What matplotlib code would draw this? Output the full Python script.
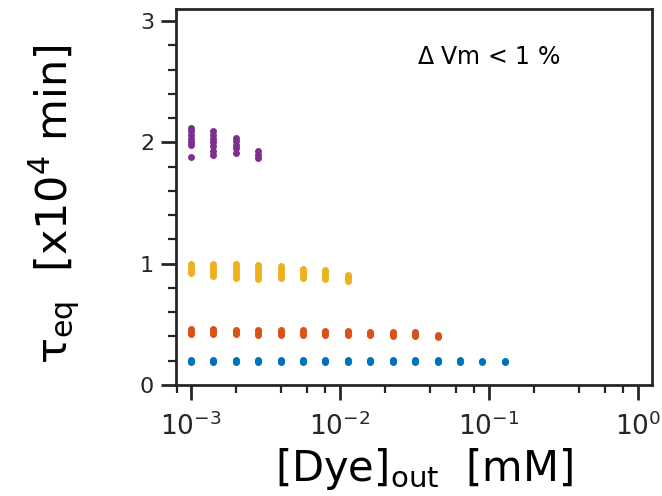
import numpy as np
import matplotlib.pyplot as plt
from matplotlib.ticker import LogLocator, MultipleLocator, NullFormatter

# dye concentration steps [mM]
conc = [1.0e-3, 1.41e-3, 2.0e-3, 2.83e-3, 4.0e-3, 5.66e-3, 8.0e-3, 1.13e-2,
        1.6e-2, 2.26e-2, 3.2e-2, 4.53e-2, 6.4e-2, 9.05e-2, 1.28e-1]

# tau_eq values [x10^4 min], one list per concentration
tau_blue = [[0.19, 0.20, 0.21]] * 12 + [[0.19, 0.20, 0.205], [0.19, 0.20], [0.19, 0.195]]
tau_red = [[0.42, 0.435, 0.45, 0.46], [0.42, 0.435, 0.45, 0.46],
           [0.42, 0.43, 0.445, 0.455], [0.415, 0.43, 0.445, 0.455],
           [0.415, 0.43, 0.44, 0.45], [0.415, 0.43, 0.44, 0.45],
           [0.41, 0.425, 0.44, 0.445], [0.41, 0.42, 0.435, 0.445],
           [0.41, 0.42, 0.43, 0.44], [0.405, 0.42, 0.43, 0.435],
           [0.405, 0.415, 0.425, 0.435], [0.395, 0.405, 0.413]]
tau_yellow = [[0.925, 0.95, 0.975, 1.0], [0.90, 0.925, 0.95, 0.975, 0.995],
              [0.885, 0.91, 0.935, 0.96, 0.98, 1.0], [0.875, 0.90, 0.925, 0.95, 0.97, 0.99],
              [0.885, 0.905, 0.93, 0.955, 0.98], [0.88, 0.90, 0.92, 0.94, 0.96],
              [0.87, 0.89, 0.91, 0.93, 0.945], [0.855, 0.87, 0.89, 0.905]]
tau_purple = [[1.88, 1.98, 2.00, 2.03, 2.06, 2.09, 2.12],
              [1.90, 1.93, 1.97, 2.00, 2.03, 2.06, 2.09],
              [1.91, 1.95, 1.98, 2.01, 2.04],
              [1.87, 1.90, 1.93]]

series = [(tau_blue, '#0072BD'), (tau_red, '#D95319'),
          (tau_yellow, '#EDB120'), (tau_purple, '#7E2F8E')]

dark = '#262626'
plt.rcParams['font.family'] = 'DejaVu Sans'

fig = plt.figure(figsize=(6.62, 4.96), dpi=100)
ax = fig.add_axes([0.2654, 0.2238, 0.7191, 0.7581])

for taus, col in series:
    for c, vals in zip(conc, taus):
        ax.plot([c] * len(vals), vals, 'o', color=col, ms=5, mec='none')

ax.set_xscale('log')
ax.set_xlim(7.9e-4, 1.24)
ax.set_ylim(0, 3.1)
ax.set_yticks([0, 1, 2, 3])
ax.yaxis.set_minor_locator(MultipleLocator(0.2))
ax.xaxis.set_major_locator(LogLocator(base=10))
ax.xaxis.set_minor_locator(LogLocator(base=10, subs=(2, 4, 6, 8)))
ax.xaxis.set_minor_formatter(NullFormatter())

for sp in ax.spines.values():
    sp.set_linewidth(2)
    sp.set_color(dark)
ax.tick_params(which='major', length=10.5, width=2, color=dark,
               labelsize=16, labelcolor=dark, pad=5)
ax.tick_params(axis='x', which='major', pad=9, labelsize=19)
ax.tick_params(which='minor', length=6, width=1.6, color=dark)

ax.set_xlabel(r'[Dye]$_{\mathrm{out}}$  [mM]', fontsize=30, color='black', labelpad=4)
ax.set_ylabel(r'$\mathrm{\tau}_{\mathrm{eq}}$  [x10$^4$ min]', fontsize=31,
              color='black', labelpad=42)
ax.xaxis.label.set_x(0.521)
ax.yaxis.label.set_y(0.481)

ax.text(0.506, 0.872, r'$\Delta$ Vm < 1 %', transform=ax.transAxes,
        fontsize=17, color='black', ha='left', va='center')

fig.savefig('out.png', dpi=100)
